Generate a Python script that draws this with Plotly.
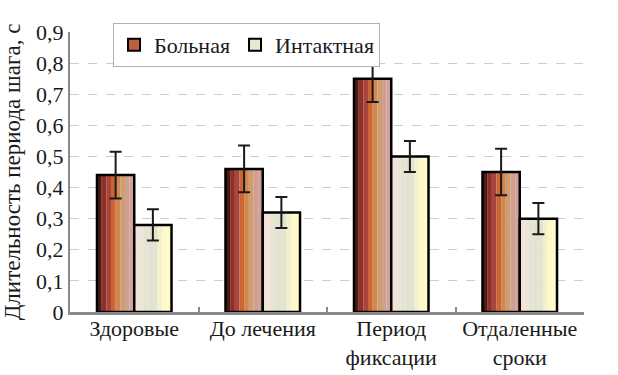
import plotly.graph_objects as go

categories = ["Здоровые", "До лечения", "Период<br>фиксации", "Отдаленные<br>сроки"]
sick_values = [0.44, 0.46, 0.75, 0.45]
sick_errors = [0.075, 0.075, 0.075, 0.075]
intact_values = [0.28, 0.32, 0.50, 0.30]
intact_errors = [0.05, 0.05, 0.05, 0.05]
series_names = ["Больная", "Интактная"]
y_tickvals = [0, 0.1, 0.2, 0.3, 0.4, 0.5, 0.6, 0.7, 0.8, 0.9]
y_ticktext = ["0", "0,1", "0,2", "0,3", "0,4", "0,5", "0,6", "0,7", "0,8", "0,9"]
y_title = "Длительность периода шага, с"

sick_stripes = ["#4a1a14", "#8f2f2a", "#a8463c", "#cc6532", "#d28652", "#cf9d72", "#d0a08f", "#d3a0a0"]
intact_stripes = ["#f5e2d6", "#efe4d8", "#e6e3d4", "#e0e3d1", "#e2e4d0", "#f2f0cd", "#fdf9c8", "#fffcca"]

BAR_W = 0.29
FONT = "Liberation Serif, Times New Roman, serif"

fig = go.Figure()

def add_striped(values, errors, colors, base_offset, name, legend_color):
    n = len(colors)
    sw = BAR_W / n
    for i, c in enumerate(colors):
        fig.add_trace(go.Bar(
            x=categories, y=values, offset=base_offset + i * sw, width=sw * 1.02,
            marker=dict(color=c, line=dict(width=0)), showlegend=False, hoverinfo="skip"))
    fig.add_trace(go.Bar(
        x=categories, y=values, offset=base_offset, width=BAR_W,
        marker=dict(color="rgba(0,0,0,0)", line=dict(color="black", width=2.5)),
        error_y=dict(type="data", array=errors, color="#1a1a1a", thickness=2, width=6),
        showlegend=False))
    fig.add_trace(go.Bar(
        x=categories, y=[None] * len(values), name=name,
        marker=dict(color=legend_color, line=dict(color="black", width=2)), showlegend=True))

add_striped(sick_values, sick_errors, sick_stripes, -BAR_W, series_names[0], "#c0603a")
add_striped(intact_values, intact_errors, intact_stripes, 0.0, series_names[1], "#e8e8d4")

fig.update_layout(
    width=618, height=375,
    margin=dict(l=70, r=34, t=32, b=63, autoexpand=False),
    paper_bgcolor="white", plot_bgcolor="white",
    barmode="overlay",
    separators=", ",
    font=dict(family=FONT, size=22, color="#1a1a1a"),
    legend=dict(orientation="h", xref="container", yref="container",
                x=113 / 618, y=1 - 23 / 375, xanchor="left", yanchor="top",
                bgcolor="white", bordercolor="#b0b0b0", borderwidth=1,
                font=dict(family=FONT, size=22, color="#1a1a1a"),
                itemwidth=30, tracegroupgap=0),
    xaxis=dict(showline=True, linecolor="#8a8a8a", linewidth=3,
               ticks="inside", tickson="boundaries", ticklen=5, tickcolor="#8a8a8a", tickwidth=2,
               showgrid=False, automargin=False, ticklabelstandoff=-5,
               tickfont=dict(family=FONT, size=22, color="#1a1a1a")),
    yaxis=dict(range=[0, 0.9], tickvals=y_tickvals, ticktext=y_ticktext,
               showline=True, linecolor="#8a8a8a", linewidth=2,
               showgrid=True, gridcolor="#cccccc", griddash="dash", gridwidth=1,
               zeroline=False, ticks="", automargin=False,
               tickfont=dict(family=FONT, size=22, color="#1a1a1a"),
               title=dict(text=y_title, font=dict(family=FONT, size=23, color="#1a1a1a"))),
)

fig.write_html("out.html", config={"displayModeBar": False},
               post_script="document.body.style.margin='0';")
